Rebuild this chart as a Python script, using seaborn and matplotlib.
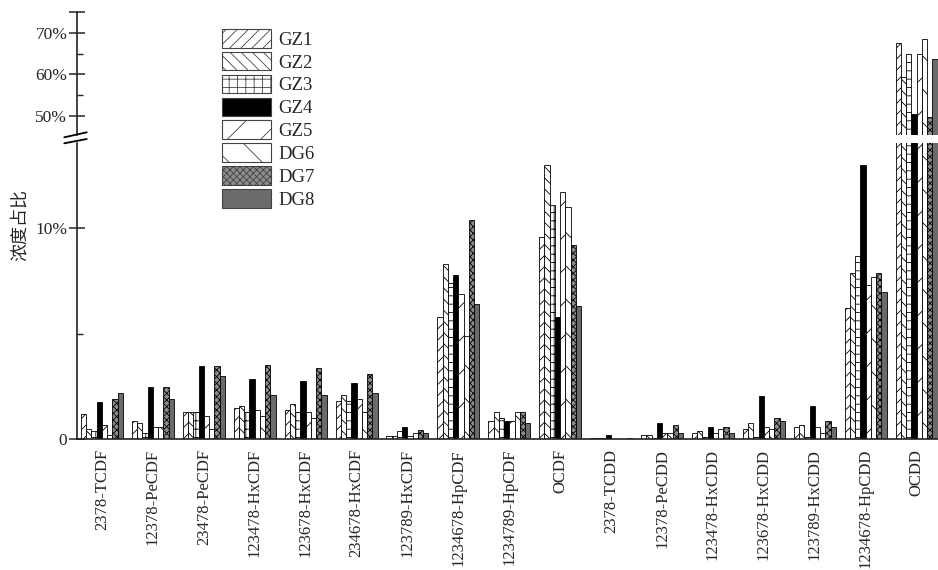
import matplotlib
matplotlib.use("Agg")
import matplotlib.pyplot as plt
from matplotlib.patches import Patch
from matplotlib.lines import Line2D
import numpy as np
import pandas as pd
import seaborn as sns

# Congener categories (x axis)
categories = ['2378-TCDF', '12378-PeCDF', '23478-PeCDF', '123478-HxCDF',
              '123678-HxCDF', '234678-HxCDF', '123789-HxCDF', '1234678-HpCDF',
              '1234789-HpCDF', 'OCDF', '2378-TCDD', '12378-PeCDD',
              '123478-HxCDD', '123678-HxCDD', '123789-HxCDD', '1234678-HpCDD',
              'OCDD']

# Share of total concentration (%) per sampling site
GZ1 = [1.18, 0.86, 1.27, 1.47, 1.37, 1.80, 0.17, 5.81, 0.88, 9.60, 0.07, 0.18, 0.28, 0.47, 0.56, 6.21, 67.6]
GZ2 = [0.48, 0.77, 1.27, 1.57, 1.67, 2.08, 0.17, 8.31, 1.29, 13.02, 0.07, 0.18, 0.37, 0.77, 0.67, 7.90, 59.4]
GZ3 = [0.37, 0.28, 1.27, 1.31, 1.30, 1.80, 0.39, 7.43, 1.00, 11.11, 0.05, 0.05, 0.10, 0.10, 0.10, 8.69, 65.0]
GZ4 = [1.78, 2.48, 3.49, 2.87, 2.78, 2.68, 0.58, 7.81, 0.88, 5.81, 0.18, 0.77, 0.56, 2.07, 1.58, 13.00, 50.4]
GZ5 = [0.67, 0.58, 1.09, 1.37, 1.30, 1.89, 0.17, 6.89, 0.85, 11.71, 0.02, 0.28, 0.28, 0.56, 0.56, 7.31, 64.8]
DG6 = [0.20, 0.58, 0.48, 1.09, 0.99, 1.30, 0.29, 4.90, 1.29, 11.02, 0.02, 0.28, 0.47, 0.47, 0.28, 7.71, 68.4]
DG7 = [1.89, 2.48, 3.49, 3.50, 3.39, 3.09, 0.45, 10.41, 1.29, 9.21, 0.02, 0.67, 0.56, 0.99, 0.86, 7.90, 49.8]
DG8 = [2.19, 1.89, 3.00, 2.08, 2.08, 2.19, 0.29, 6.40, 0.77, 6.32, 0.07, 0.28, 0.28, 0.86, 0.56, 7.00, 63.6]

series_names = ['GZ1', 'GZ2', 'GZ3', 'GZ4', 'GZ5', 'DG6', 'DG7', 'DG8']
series_values = [GZ1, GZ2, GZ3, GZ4, GZ5, DG6, DG7, DG8]

# Fill style per site
faces = ['white', 'white', 'white', 'black', 'white', 'white', '#8c8c8c', '#6b6b6b']
hatches = ['///', '\\\\\\', '++', None, '/', '\\', 'xxxxx', None]

df = pd.DataFrame({
    'compound': np.repeat([categories], len(series_names), axis=0).ravel(),
    'site': np.repeat(series_names, len(categories)),
    'share': np.concatenate(series_values),
})

sns.set_style('white')
plt.rcParams['font.family'] = ['Liberation Serif', 'DejaVu Serif']
plt.rcParams['hatch.linewidth'] = 0.6
plt.rcParams['axes.edgecolor'] = '#222222'

fig = plt.figure(figsize=(9.38, 5.70), dpi=100)
left = 77 / 938
width = 1 - left
ax_lo = fig.add_axes([left, 1 - 439.2 / 570, width, (439.2 - 143.3) / 570])
ax_hi = fig.add_axes([left, 1 - 135 / 570, width, (135 - 12) / 570])

for ax in (ax_lo, ax_hi):
    sns.barplot(data=df, x='compound', y='share', hue='site',
                hue_order=series_names, order=categories,
                palette=['white'] * len(series_names), errorbar=None,
                width=0.825, gap=0, dodge=True, legend=False,
                edgecolor='black', linewidth=0.6, ax=ax)
    for cont, fc, h in zip(ax.containers, faces, hatches):
        for bar in cont:
            bar.set_facecolor(fc)
            bar.set_edgecolor('black')
            if h:
                bar.set_hatch(h)
    ax.set_xlim(-0.49, 16.42)
    ax.set_xlabel('')
    ax.set_ylabel('')
    for s in ('top', 'right'):
        ax.spines[s].set_visible(False)
    ax.spines['left'].set_linewidth(1.2)
    ax.tick_params(axis='y', which='major', direction='inout', length=12,
                   width=1.1, pad=1, labelsize=12.5, left=True)
    ax.tick_params(axis='y', which='minor', direction='in', length=4.5,
                   width=1.0, left=True)

# Lower panel: 0 – 14 %
ax_lo.set_ylim(0, 14.04)
ax_lo.set_yticks([0, 10])
ax_lo.set_yticklabels(['0', '10%'])
ax_lo.set_yticks([5], minor=True)
ax_lo.spines['bottom'].set_linewidth(1.2)
ax_lo.tick_params(axis='x', length=0, pad=7, labelsize=12, labelrotation=90)

# Upper panel: 45 – 75 %
ax_hi.set_ylim(45.47, 75)
ax_hi.set_yticks([50, 60, 70, 75])
ax_hi.set_yticklabels(['50%', '60%', '70%', ''])
ax_hi.set_yticks([55, 65], minor=True)
ax_hi.spines['bottom'].set_visible(False)
ax_hi.set_xticks([])

# Axis break marks
for y0, y1 in [(137.3, 132.3), (143.3, 139.0)]:
    fig.add_artist(Line2D([64.3 / 938, 86.7 / 938], [1 - y0 / 570, 1 - y1 / 570],
                          color='black', lw=1.3, transform=fig.transFigure))

# Y axis title
fig.text(20 / 938, 1 - 225 / 570, '浓度占比', rotation=90, ha='center', va='center',
         fontsize=13, family=['Noto Sans CJK SC', 'DejaVu Sans'])

# Legend
handles = [Patch(facecolor=fc, edgecolor='#444444', hatch=h, linewidth=0.8)
           for fc, h in zip(faces, hatches)]
fig.legend(handles, series_names, loc='upper left',
           bbox_to_anchor=(222 / 938, 1 - 29 / 570), frameon=False,
           handlelength=2.6, handleheight=1.15, labelspacing=0.17,
           handletextpad=0.4, borderpad=0, borderaxespad=0, fontsize=13.5)

fig.savefig('out.png', dpi=100)
